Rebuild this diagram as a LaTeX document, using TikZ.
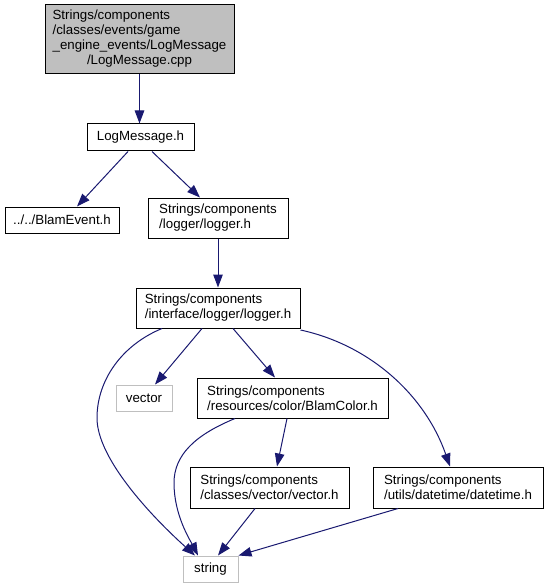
\documentclass[tikz,border=0pt]{standalone}
\usepackage{fontspec}
\setmainfont{Liberation Sans}
\usetikzlibrary{arrows.meta}
\definecolor{edgeblue}{HTML}{191970}
\definecolor{boxgray}{HTML}{BFBFBF}
\begin{document}
\begin{tikzpicture}[x=1pt,y=-1pt,
  box/.style={draw=black, line width=1pt, rectangle, inner sep=0pt, align=left,
    font=\fontsize{13.3}{15}\selectfont},
  extbox/.style={box, draw=boxgray},
  dep/.style={draw=edgeblue, line width=1pt, -{Triangle[length=13pt,width=9.5pt]}}]
\useasboundingbox (0,0) rectangle (548,588);
\node[box, fill=boxgray, minimum width=189pt, minimum height=69pt] (n1) at (139.5,39.5)
  {\begin{tabular}{@{}l@{}}Strings/components\\/classes/events/game\\\_engine\_events/LogMessage\\\multicolumn{1}{@{}c@{}}{/LogMessage.cpp}\end{tabular}};
\node[box, minimum width=107pt, minimum height=27pt] (n2) at (140.5,137.5) {LogMessage.h};
\node[box, minimum width=114pt, minimum height=26pt] (n3) at (62,220) {../../BlamEvent.h};
\node[box, minimum width=140pt, minimum height=40pt] (n4) at (218,218) {Strings/components\\/logger/logger.h};
\node[box, minimum width=164pt, minimum height=40pt] (n5) at (218,308) {Strings/components\\/interface/logger/logger.h};
\node[extbox, minimum width=56pt, minimum height=26pt] (nvec) at (144,398) {vector};
\node[box, minimum width=191pt, minimum height=40pt] (ncol) at (292.5,398) {Strings/components\\/resources/color/BlamColor.h};
\node[box, minimum width=159pt, minimum height=41pt] (nvh) at (269.5,487.5) {Strings/components\\/classes/vector/vector.h};
\node[box, minimum width=170pt, minimum height=41pt] (ndt) at (458,487.5) {Strings/components\\/utils/datetime/datetime.h};
\node[extbox, minimum width=55pt, minimum height=26pt] (nstr) at (210.5,569) {string};

\draw[dep] (n1.south) -- (n1.south |- n2.north);
\draw[dep] ([xshift=-12.5pt]n2.south) -- ([xshift=15pt]n3.north);
\draw[dep] ([xshift=11.5pt]n2.south) -- ([xshift=-18pt]n4.north);
\draw[dep] (n4.south) -- (n5.north);
\draw[dep] ([xshift=-16pt]n5.south) -- ([xshift=11pt]nvec.north);
\draw[dep] ([xshift=15pt]n5.south) -- ([xshift=-17.5pt]ncol.north);
\draw[dep] ([xshift=-56pt]n5.south) .. controls (122,345) and (97,380) .. (97,418)
  .. controls (97,458) and (150,515) .. ([xshift=-15.5pt]nstr.north);
\draw[dep] ([yshift=-1.5pt]n5.south east) .. controls (370,345) and (425,395) .. ([xshift=-8pt]ndt.north);
\draw[dep] ([xshift=-57.5pt]ncol.south) .. controls (195,435) and (174,455) .. (174,483)
  .. controls (174,515) and (190,540) .. ([xshift=-12.5pt]nstr.north);
\draw[dep] ([xshift=-5.5pt]ncol.south) -- ([xshift=7.5pt]nvh.north);
\draw[dep] ([xshift=-14.5pt]nvh.south) -- ([xshift=7.5pt]nstr.north);
\draw[dep] ([xshift=-60pt]ndt.south) -- (nstr.north east);
\end{tikzpicture}
\end{document}
